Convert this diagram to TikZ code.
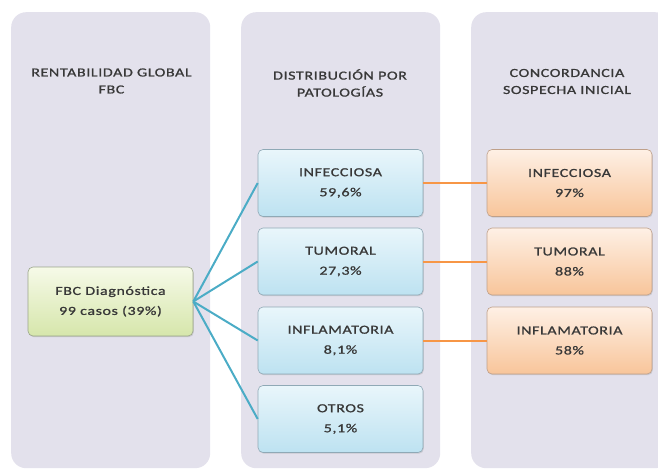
\documentclass[tikz,border=0pt]{standalone}
\usepackage{fontspec}
\setmainfont{Carlito}[FakeStretch=1.3, LetterSpace=5, FakeBold=1]
\usetikzlibrary{shadows}
\definecolor{panelc}{HTML}{E3E1EC}
\definecolor{txt}{HTML}{383838}
\definecolor{bluetop}{HTML}{E9F6FB}
\definecolor{bluebot}{HTML}{BDE2F1}
\definecolor{blueedge}{HTML}{8FA9B6}
\definecolor{greentop}{HTML}{F6FAE8}
\definecolor{greenbot}{HTML}{D6E6AB}
\definecolor{greenedge}{HTML}{9AA58A}
\definecolor{orangetop}{HTML}{FEF0E5}
\definecolor{orangebot}{HTML}{F8C59A}
\definecolor{orangeedge}{HTML}{BFA08A}
\definecolor{bluelink}{HTML}{4BACC6}
\definecolor{orangelink}{HTML}{F79646}
\tikzset{
  panel/.style={rectangle, rounded corners=15pt, fill=panelc, draw=none,
    minimum width=199pt, minimum height=456pt, anchor=north west, inner sep=0pt},
  header/.style={align=center, text=txt, font=\fontsize{12.3}{17}\selectfont},
  box/.style={rectangle, rounded corners=5pt, minimum width=165pt, minimum height=67pt,
    align=center, text=txt, font=\fontsize{12.3}{15}\selectfont, line width=0.6pt,
    drop shadow={opacity=0.25, shadow xshift=0.8pt, shadow yshift=-1.2pt}},
  bluebox/.style={box, top color=bluetop, bottom color=bluebot, draw=blueedge},
  greenbox/.style={box, top color=greentop, bottom color=greenbot, draw=greenedge, minimum height=69pt},
  orangebox/.style={box, top color=orangetop, bottom color=orangebot, draw=orangeedge},
  bluelinkst/.style={draw=bluelink, line width=2pt},
  orangelinkst/.style={draw=orangelink, line width=2pt},
}
\begin{document}
\begin{tikzpicture}[x=1pt, y=-1pt]
\useasboundingbox (0,0) rectangle (658,470);
\clip (0,0) rectangle (658,470);
\node[panel] (p1) at (11,12) {};
\node[panel] (p2) at (241,12) {};
\node[panel] (p3) at (471,12) {};
\node[header] (h1) at (111.5,81) {RENTABILIDAD GLOBAL\\FBC};
\node[header] (h2) at (340,83) {DISTRIBUCIÓN POR\\PATOLOGÍAS};
\node[header] (h3) at (567,81.5) {CONCORDANCIA\\SOSPECHA INICIAL};
\node[greenbox] (g) at (110.5,301.5) {FBC Diagnóstica\\[5pt]99 casos (39\%)};
\node[bluebox] (b1) at (340.5,183) {INFECCIOSA\\[5pt]59,6\%};
\node[bluebox] (b2) at (340.5,261.5) {TUMORAL\\[5pt]27,3\%};
\node[bluebox] (b3) at (340.5,340.5) {INFLAMATORIA\\[5pt]8,1\%};
\node[bluebox] (b4) at (340.5,419) {OTROS\\[5pt]5,1\%};
\node[orangebox] (o1) at (569.5,183) {INFECCIOSA\\[5pt]97\%};
\node[orangebox] (o2) at (569.5,261.5) {TUMORAL\\[5pt]88\%};
\node[orangebox] (o3) at (569.5,340.5) {INFLAMATORIA\\[5pt]58\%};
\foreach \b in {b1,b2,b3,b4} \draw[bluelinkst] (g.east) -- (\b.west);
\draw[orangelinkst] (b1.east) -- (o1.west);
\draw[orangelinkst] (b2.east) -- (o2.west);
\draw[orangelinkst] (b3.east) -- (o3.west);
\end{tikzpicture}
\end{document}
